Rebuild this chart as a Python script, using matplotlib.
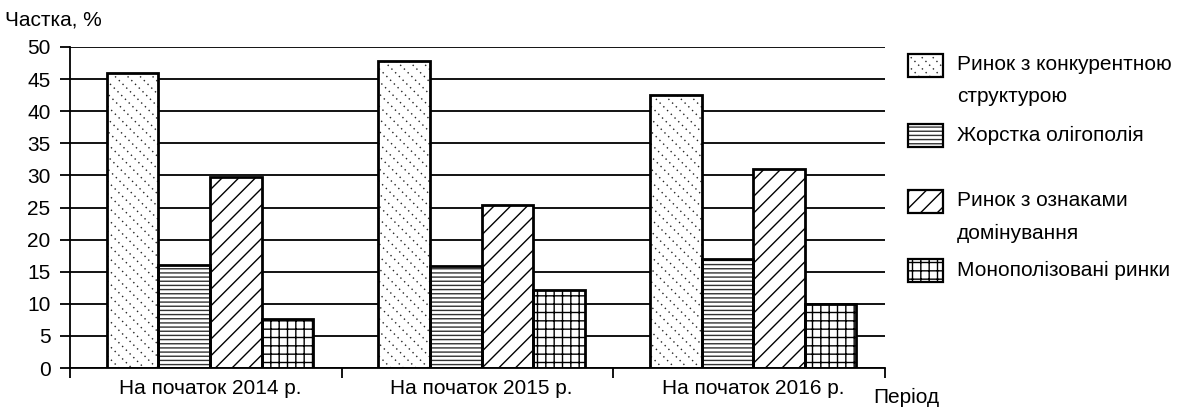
import matplotlib
matplotlib.use("Agg")
import matplotlib.pyplot as plt
from matplotlib.patches import Rectangle
from matplotlib.lines import Line2D
from matplotlib.transforms import IdentityTransform
import numpy as np

plt.rcParams['font.family'] = ['Liberation Sans', 'DejaVu Sans']
plt.rcParams['hatch.linewidth'] = 1.0

periods = ["На початок 2014 р.", "На початок 2015 р.", "На початок 2016 р."]
series_names = [
    "Ринок з конкурентною\nструктурою",
    "Жорстка олігополія",
    "Ринок з ознаками\nдомінування",
    "Монополізовані ринки",
]
competitive = [46.0, 47.8, 42.5]
oligopoly = [16.0, 15.9, 17.0]
dominance = [29.8, 25.4, 31.0]
monopolized = [7.6, 12.1, 10.0]
y_ticks = list(range(0, 51, 5))

values = [competitive, oligopoly, dominance, monopolized]
# None -> dotted diagonal texture drawn by dotted_diagonals()
hatches = [None, '----', '//', '++']
hatch_colors = ['black', '#333333', 'black', 'black']
FS = 15

W, H = 1183, 412
fig = plt.figure(figsize=(W / 100, H / 100), dpi=100)
ax = fig.add_axes([70 / W, 1 - 368 / H, (885 - 70) / W, (368 - 47) / H])
ax.set_xlim(0, 3)
ax.set_ylim(0, 50)


def dotted_diagonals(patch, host, spacing=12.5):
    """Fill a rectangle with dotted '\\' lines, clipped to the rectangle."""
    corners = patch.get_verts()
    xs, ys = corners[:, 0], corners[:, 1]
    x0, x1, y0, y1 = xs.min(), xs.max(), ys.min(), ys.max()
    h = y1 - y0
    for c in np.arange(x0 - h, x1 + spacing, spacing):
        ln = Line2D([c, c + h], [y1, y0], transform=IdentityTransform(),
                    color='#222222', linewidth=1.0,
                    linestyle=(0, (1.0, 2.8)), zorder=2.5)
        host.add_artist(ln)
        ln.set_clip_path(patch)


centers = np.arange(len(periods)) + 0.515
width = 0.19
offsets = (np.arange(4) - 1.5) * width

for vals, off, hatch, hc in zip(values, offsets, hatches, hatch_colors):
    bars = ax.bar(centers + off, vals, width, color='white', edgecolor=hc,
                  hatch=hatch, linewidth=0, zorder=2)
    ax.bar(centers + off, vals, width, fill=False, edgecolor='black',
           linewidth=2.0, zorder=3)
    if hatch is None:
        for b in bars:
            dotted_diagonals(b, ax)

ax.set_yticks(y_ticks)
ax.yaxis.grid(True, color='black', linewidth=1.3)
ax.set_axisbelow(True)

ax.set_xticks([0, 1, 2, 3])
ax.set_xticklabels([])
ax.set_xticks(centers, minor=True)
ax.set_xticklabels(periods, minor=True)
ax.tick_params(axis='x', which='major', direction='out', length=7,
               width=1.3, color='black')
ax.tick_params(axis='x', which='minor', length=0, pad=8, labelsize=FS)
ax.tick_params(axis='y', direction='out', length=7, width=1.3,
               labelsize=FS, pad=7)

for side in ('top', 'right'):
    ax.spines[side].set_visible(False)
for side in ('left', 'bottom'):
    ax.spines[side].set_linewidth(1.3)

fig.text(5 / W, 1 - 20 / H, "Частка, %", fontsize=FS, va='center', ha='left')
fig.text(873 / W, 1 - 397 / H, "Період", fontsize=FS, va='center', ha='left')

# legend: swatches with labels on the right
legend_rows = [65, 135, 201, 270]
for name, hatch, hc, yc in zip(series_names, hatches, hatch_colors, legend_rows):
    x0, w, h = 908 / W, 35 / W, 23 / H
    y0 = 1 - (yc + 11.5) / H
    sw = Rectangle((x0, y0), w, h, transform=fig.transFigure,
                   facecolor='white', edgecolor=hc, hatch=hatch, linewidth=0)
    fig.add_artist(sw)
    if hatch is None:
        dotted_diagonals(sw, fig, spacing=11)
    fig.add_artist(Rectangle((x0, y0), w, h, transform=fig.transFigure,
                             fill=False, edgecolor='black', linewidth=1.6,
                             zorder=3))
    for i, line in enumerate(name.split('\n')):
        fig.text(957 / W, 1 - (yc + i * 32) / H, line, fontsize=FS,
                 va='center', ha='left')

fig.savefig("out.png", dpi=100)
